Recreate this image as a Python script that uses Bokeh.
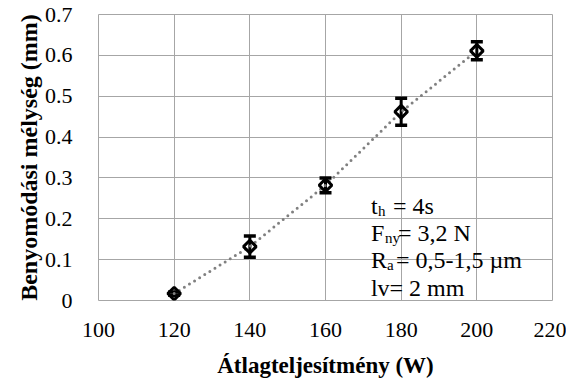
from bokeh.plotting import figure
from bokeh.models import ColumnDataSource, Whisker, TeeHead, Label, FixedTicker, Range1d
from bokeh.embed import file_html
from bokeh.resources import INLINE

# --- data ---
power_w = [120, 140, 160, 180, 200]
depth_mm = [0.017, 0.132, 0.282, 0.462, 0.611]
depth_err = [0.004, 0.026, 0.018, 0.033, 0.022]

x_ticks = [100, 120, 140, 160, 180, 200, 220]
y_ticks = [0, 0.1, 0.2, 0.3, 0.4, 0.5, 0.6, 0.7]
y_tick_labels = ["0", "0.1", "0.2", "0.3", "0.4", "0.5", "0.6", "0.7"]

x_title = "Átlagteljesítmény (W)"
y_title = "Benyomódási mélység (mm)"

FONT = "Liberation Serif"
GRID = "#a6a6a6"

src = ColumnDataSource(dict(
    x=power_w, y=depth_mm,
    upper=[v + e for v, e in zip(depth_mm, depth_err)],
    lower=[v - e for v, e in zip(depth_mm, depth_err)],
))

p = figure(width=566, height=380, output_backend="svg", toolbar_location=None,
           x_range=Range1d(100, 220), y_range=Range1d(0, 0.7),
           min_border_left=98, min_border_right=14, min_border_top=14, min_border_bottom=80)
p.background_fill_color = "white"
p.border_fill_color = "white"
p.outline_line_color = GRID
p.outline_line_width = 1

p.xaxis.ticker = FixedTicker(ticks=x_ticks)
p.yaxis.ticker = FixedTicker(ticks=y_ticks)
p.yaxis.major_label_overrides = {t: l for t, l in zip(y_ticks, y_tick_labels)}
for ax in (p.xaxis, p.yaxis):
    ax.axis_line_color = None
    ax.major_tick_line_color = None
    ax.minor_tick_line_color = None
    ax.major_tick_out = 0
    ax.major_tick_in = 0
    ax.major_label_text_font = FONT
    ax.major_label_text_font_size = "22px"
    ax.major_label_text_color = "black"
    ax.axis_label_text_font = FONT
    ax.axis_label_text_font_style = "bold"
    ax.axis_label_text_color = "black"
p.xaxis.major_label_standoff = 22
p.yaxis.major_label_standoff = 26

p.xaxis.axis_label = x_title
p.xaxis.axis_label_text_font_size = "23px"
p.xaxis.axis_label_standoff = 13
p.yaxis.axis_label = y_title
p.yaxis.axis_label_text_font_size = "24px"
p.yaxis.axis_label_standoff = 0

p.xgrid.grid_line_color = GRID
p.ygrid.grid_line_color = GRID
p.xgrid.grid_line_width = 1
p.ygrid.grid_line_width = 1

# dotted connecting line
p.line("x", "y", source=src, line_color="#808080", line_width=3,
       line_dash="0 6", line_cap="round")

# error bars
w = Whisker(base="x", upper="upper", lower="lower", source=src,
            line_color="black", line_width=3,
            upper_head=TeeHead(size=12, line_width=3.5, line_color="black"),
            lower_head=TeeHead(size=12, line_width=3.5, line_color="black"))
p.add_layout(w)

# markers (hollow diamonds)
p.scatter("x", "y", source=src, marker="square", angle=0.785398, size=9,
          line_color="black", line_width=3, fill_alpha=0)

# annotation block
ax0 = 172.0
rows = [
    (0.2325, "t", "h", 7, "= 4s", 22),
    (0.1664, "F", "ny", 14, "= 3,2 N", 27),
    (0.1003, "R", "a", 16, "= 0,5-1,5 µm", 25),
]
for yb, main, sub, so, rest, ro in rows:
    p.add_layout(Label(x=ax0, y=yb, text=main, text_font=FONT, text_font_size="24px",
                       text_baseline="alphabetic", text_color="black"))
    p.add_layout(Label(x=ax0, y=yb, x_offset=so, y_offset=-5, text=sub, text_font=FONT,
                       text_font_size="15px", text_baseline="alphabetic", text_color="black"))
    p.add_layout(Label(x=ax0, y=yb, x_offset=ro, text=rest, text_font=FONT,
                       text_font_size="24px", text_baseline="alphabetic", text_color="black"))
p.add_layout(Label(x=ax0, y=0.0318, text="lv= 2 mm", text_font=FONT, text_font_size="24px",
                   text_baseline="alphabetic", text_color="black"))

open("out.html", "w").write(file_html(p, INLINE))
